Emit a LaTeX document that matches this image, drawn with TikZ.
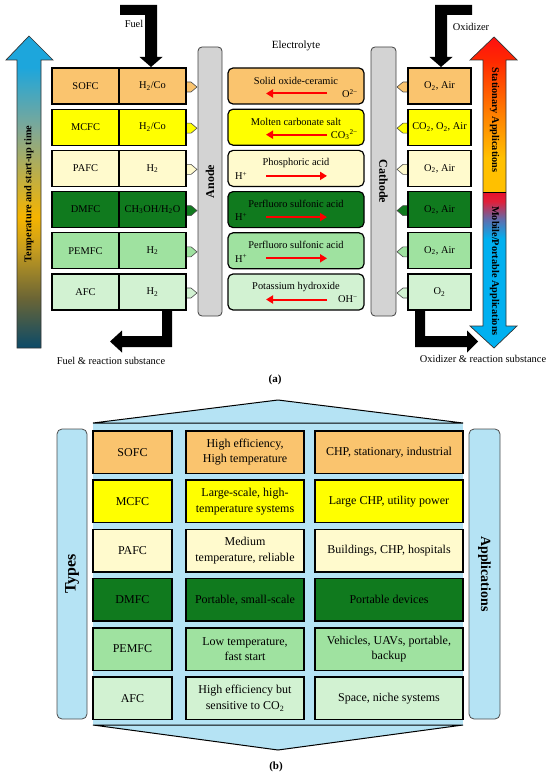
\documentclass[tikz,border=0pt]{standalone}
\usepackage{fontspec}
\setmainfont{Liberation Serif}
\usetikzlibrary{arrows.meta}
\definecolor{cSOFC}{HTML}{FAC46E}
\definecolor{cMCFC}{HTML}{FFFF00}
\definecolor{cPAFC}{HTML}{FFFACD}
\definecolor{cDMFC}{HTML}{107A1E}
\definecolor{cPEMFC}{HTML}{9FE2A0}
\definecolor{cAFC}{HTML}{D2F2D2}
\definecolor{lblue}{HTML}{B5E3F4}
\definecolor{barGray}{HTML}{D3D3D3}
\definecolor{tA1}{HTML}{0B4A68}
\definecolor{tA2}{HTML}{6B6535}
\definecolor{tA3}{HTML}{C89E1E}
\definecolor{tA4}{HTML}{F5B400}
\definecolor{tA5}{HTML}{80A895}
\definecolor{tA6}{HTML}{1DA6DC}
\definecolor{sA1}{HTML}{FFC000}
\definecolor{sA2}{HTML}{FF8000}
\definecolor{sA3}{HTML}{FF2A00}
\definecolor{sA4}{HTML}{FF1010}
\definecolor{mA1}{HTML}{00B0F0}
\definecolor{mA2}{HTML}{5B6FB0}
\definecolor{mA3}{HTML}{E0203A}
\definecolor{mA4}{HTML}{E8102A}
\pgfdeclareverticalshading{tempshade}{100bp}{color(0bp)=(tA1); color(25bp)=(tA1); color(33bp)=(tA2); color(41bp)=(tA3); color(46bp)=(tA4); color(60bp)=(tA5); color(70bp)=(tA6); color(75bp)=(tA6); color(100bp)=(tA6)}
\pgfdeclareverticalshading{statshade}{100bp}{color(0bp)=(sA1); color(25bp)=(sA1); color(36bp)=(sA1); color(50bp)=(sA2); color(67bp)=(sA3); color(75bp)=(sA4); color(100bp)=(sA4)}
\pgfdeclareverticalshading{mobshade}{100bp}{color(0bp)=(mA1); color(25bp)=(mA1); color(60bp)=(mA1); color(66bp)=(mA2); color(72bp)=(mA3); color(75bp)=(mA4); color(100bp)=(mA4)}
\tikzset{
  txtA/.style={inner sep=0pt, font=\fontsize{10.4}{12}\selectfont},
  cellA/.style={draw=black, line width=1.2pt, minimum height=36pt, inner sep=1pt, font=\fontsize{10.4}{12}\selectfont},
  elbox/.style={draw=black, line width=1.2pt, rounded corners=5pt, minimum width=136pt, minimum height=36pt, inner sep=0pt},
  redarr/.style={draw=red, line width=2pt, -{Triangle[length=7pt,width=8pt]}},
  tabshape/.style={draw=black!70, line width=0.6pt},
  gbar/.style={draw=black!75, line width=0.8pt, fill=barGray, rounded corners=4pt, inner sep=0pt, font=\fontsize{12}{14}\selectfont\bfseries},
  blockarrow/.style={fill=black, draw=none},
  gradtxt/.style={inner sep=0pt, font=\fontsize{10.3}{12}\selectfont\bfseries},
  cellB/.style={draw=black, line width=1.5pt, minimum height=42.5pt, align=center, inner sep=1pt, font=\fontsize{12}{15.5}\selectfont},
  sidebar/.style={draw=black!70, line width=0.8pt, fill=lblue, rounded corners=5pt, inner sep=0pt, minimum width=290pt},
  caption/.style={inner sep=0pt, font=\fontsize{11}{13}\selectfont\bfseries}
}
\begin{document}
\begin{tikzpicture}[x=1pt, y=-1pt]
\useasboundingbox (0,0) rectangle (550,778);
% ================= (a) =================
% left gradient arrow
\path[shading=tempshade] (17,348) -- (17,60) -- (6,60) -- (29,36) -- (53,60) -- (41,60) -- (41,348) -- cycle;
\draw[black!80, line width=0.7pt] (17,348) -- (17,60) -- (6,60) -- (29,36) -- (53,60) -- (41,60) -- (41,348) -- cycle;
\node[gradtxt, rotate=90] (temp) at (29,194) {Temperature and start-up time};
% right gradient arrow
\path[shading=statshade] (483,192) -- (483,60) -- (470,60) -- (494,37) -- (517,60) -- (506,60) -- (506,192) -- cycle;
\path[shading=mobshade] (483,192) -- (483,326) -- (470,326) -- (494,348) -- (517,326) -- (506,326) -- (506,192) -- cycle;
\draw[black!80, line width=0.7pt] (494,37) -- (517,60) -- (506,60) -- (506,326) -- (517,326) -- (494,348) -- (470,326) -- (483,326) -- (483,60) -- (470,60) -- cycle;
\draw[black, line width=0.8pt] (483,192) -- (506,192);
\node[gradtxt, rotate=-90] (stat) at (494.5,120) {Stationary Applications};
\node[gradtxt, rotate=-90] (mob) at (494.5,271) {Mobile/Portable Applications};
% block arrows
\fill[blockarrow] (120,5) -- (157,5) -- (157,57) -- (162.5,57) -- (151,67) -- (139.5,57) -- (145,57) -- (145,15) -- (120,15) -- cycle;
\fill[blockarrow] (472,5) -- (435,5) -- (435,57) -- (429.5,57) -- (441,67) -- (452.5,57) -- (447,57) -- (447,15) -- (472,15) -- cycle;
\fill[blockarrow] (172,310) -- (172,347) -- (122,347) -- (122,352.5) -- (110,341.5) -- (122,330.5) -- (122,336) -- (162,336) -- (162,310) -- cycle;
\fill[blockarrow] (415,310) -- (415,347) -- (467,347) -- (467,352.5) -- (478,341.5) -- (467,330.5) -- (467,336) -- (425,336) -- (425,310) -- cycle;
\node[txtA] (fuel) at (134,24) {Fuel};
\node[txtA] (oxid) at (471,27) {Oxidizer};
\node[txtA, font=\fontsize{11}{13}\selectfont] (elyte) at (296,46) {Electrolyte};
\node[txtA] (fuelout) at (111,361) {Fuel \& reaction substance};
\node[txtA] (oxout) at (483,359) {Oxidizer \& reaction substance};
% anode / cathode
\node[gbar, rotate=90, minimum width=269pt, minimum height=24pt] (anode) at (210,181.5) {Anode};
\node[gbar, rotate=-90, minimum width=269pt, minimum height=25pt] (cathode) at (383.5,181.5) {Cathode};
% tabs (left side, pointing right to anode)
\draw[tabshape, fill=cSOFC]  (186,82) -- (191,82) -- (197,87) -- (191,92) -- (186,92);
\draw[tabshape, fill=cMCFC]  (186,123.2) -- (191,123.2) -- (197,128.2) -- (191,133.2) -- (186,133.2);
\draw[tabshape, fill=cPAFC]  (186,164.4) -- (191,164.4) -- (197,169.4) -- (191,174.4) -- (186,174.4);
\draw[tabshape, fill=cDMFC]  (186,205.6) -- (191,205.6) -- (197,210.6) -- (191,215.6) -- (186,215.6);
\draw[tabshape, fill=cPEMFC] (186,246.8) -- (191,246.8) -- (197,251.8) -- (191,256.8) -- (186,256.8);
\draw[tabshape, fill=cAFC]   (186,288) -- (191,288) -- (197,293) -- (191,298) -- (186,298);
% tabs (right side, pointing left to cathode)
\draw[tabshape, fill=cSOFC]  (408,82) -- (403,82) -- (397,87) -- (403,92) -- (408,92);
\draw[tabshape, fill=cMCFC]  (408,123.2) -- (403,123.2) -- (397,128.2) -- (403,133.2) -- (408,133.2);
\draw[tabshape, fill=cPAFC]  (408,164.4) -- (403,164.4) -- (397,169.4) -- (403,174.4) -- (408,174.4);
\draw[tabshape, fill=cDMFC]  (408,205.6) -- (403,205.6) -- (397,210.6) -- (403,215.6) -- (408,215.6);
\draw[tabshape, fill=cPEMFC] (408,246.8) -- (403,246.8) -- (397,251.8) -- (403,256.8) -- (408,256.8);
\draw[tabshape, fill=cAFC]   (408,288) -- (403,288) -- (397,293) -- (403,298) -- (408,298);
% row 1 SOFC
\node[cellA, fill=cSOFC, minimum width=67pt] (n1) at (85.5,86) {SOFC};
\node[cellA, fill=cSOFC, minimum width=67pt] (f1) at (152.5,86) {H\textsubscript{2}/Co};
\node[elbox, fill=cSOFC] (e1) at (296,86) {};
\node[txtA] (et1) at (296,80.5) {Solid oxide-ceramic};
\coordinate (ea1) at (327,93.5); \coordinate (eb1) at (266,93.5);
\draw[redarr] (ea1) -- (eb1);
\node[txtA, anchor=east] (i1) at (358,93.5) {O\textsuperscript{2−}};
\node[cellA, fill=cSOFC, minimum width=63pt] (o1) at (439.5,86) {O\textsubscript{2}, Air};
% row 2 MCFC
\node[cellA, fill=cMCFC, minimum width=67pt] (n2) at (85.5,127.2) {MCFC};
\node[cellA, fill=cMCFC, minimum width=67pt] (f2) at (152.5,127.2) {H\textsubscript{2}/Co};
\node[elbox, fill=cMCFC] (e2) at (296,127.2) {};
\node[txtA] (et2) at (296,121.7) {Molten carbonate salt};
\coordinate (ea2) at (327,134.7); \coordinate (eb2) at (266,134.7);
\draw[redarr] (ea2) -- (eb2);
\node[txtA, anchor=east] (i2) at (358,134.7) {CO\textsubscript{3}\textsuperscript{2−}};
\node[cellA, fill=cMCFC, minimum width=63pt] (o2) at (439.5,127.2) {CO\textsubscript{2}, O\textsubscript{2}, Air};
% row 3 PAFC
\node[cellA, fill=cPAFC, minimum width=67pt] (n3) at (85.5,168.4) {PAFC};
\node[cellA, fill=cPAFC, minimum width=67pt] (f3) at (152.5,168.4) {H\textsubscript{2}};
\node[elbox, fill=cPAFC] (e3) at (296,168.4) {};
\node[txtA] (et3) at (296,162.9) {Phosphoric acid};
\coordinate (ea3) at (266,175.9); \coordinate (eb3) at (327,175.9);
\draw[redarr] (ea3) -- (eb3);
\node[txtA, anchor=west] (i3) at (235,175.9) {H\textsuperscript{+}};
\node[cellA, fill=cPAFC, minimum width=63pt] (o3) at (439.5,168.4) {O\textsubscript{2}, Air};
% row 4 DMFC
\node[cellA, fill=cDMFC, minimum width=67pt] (n4) at (85.5,209.6) {DMFC};
\node[cellA, fill=cDMFC, minimum width=67pt] (f4) at (152.5,209.6) {CH\textsubscript{3}OH/H\textsubscript{2}O};
\node[elbox, fill=cDMFC] (e4) at (296,209.6) {};
\node[txtA] (et4) at (296,204.1) {Perfluoro sulfonic acid};
\coordinate (ea4) at (266,217.1); \coordinate (eb4) at (327,217.1);
\draw[redarr] (ea4) -- (eb4);
\node[txtA, anchor=west] (i4) at (235,217.1) {H\textsuperscript{+}};
\node[cellA, fill=cDMFC, minimum width=63pt] (o4) at (439.5,209.6) {O\textsubscript{2}, Air};
% row 5 PEMFC
\node[cellA, fill=cPEMFC, minimum width=67pt] (n5) at (85.5,250.8) {PEMFC};
\node[cellA, fill=cPEMFC, minimum width=67pt] (f5) at (152.5,250.8) {H\textsubscript{2}};
\node[elbox, fill=cPEMFC] (e5) at (296,250.8) {};
\node[txtA] (et5) at (296,245.3) {Perfluoro sulfonic acid};
\coordinate (ea5) at (266,258.3); \coordinate (eb5) at (327,258.3);
\draw[redarr] (ea5) -- (eb5);
\node[txtA, anchor=west] (i5) at (235,258.3) {H\textsuperscript{+}};
\node[cellA, fill=cPEMFC, minimum width=63pt] (o5) at (439.5,250.8) {O\textsubscript{2}, Air};
% row 6 AFC
\node[cellA, fill=cAFC, minimum width=67pt] (n6) at (85.5,292) {AFC};
\node[cellA, fill=cAFC, minimum width=67pt] (f6) at (152.5,292) {H\textsubscript{2}};
\node[elbox, fill=cAFC] (e6) at (296,292) {};
\node[txtA] (et6) at (296,287) {Potassium hydroxide};
\coordinate (ea6) at (327,299.5); \coordinate (eb6) at (266,299.5);
\draw[redarr] (ea6) -- (eb6);
\node[txtA, anchor=east] (i6) at (358,299.5) {OH\textsuperscript{−}};
\node[cellA, fill=cAFC, minimum width=63pt] (o6) at (439.5,292) {O\textsubscript{2}};
\node[caption] (capa) at (275,380) {(a)};
% ================= (b) =================
\fill[lblue] (93,423) rectangle (463,725);
\draw[black, line width=1pt, fill=lblue] (93,423) -- (278,400) -- (463,423) -- cycle;
\draw[black, line width=1pt, fill=lblue] (93,725) -- (278,750) -- (463,725) -- cycle;
\node[sidebar, rotate=90, minimum height=30pt, font=\fontsize{16}{18}\selectfont\bfseries] (types) at (72,574) {Types};
\node[sidebar, rotate=-90, minimum height=31pt, font=\fontsize{14}{16}\selectfont\bfseries] (apps) at (484.5,574) {Applications};
% rows
\node[cellB, fill=cSOFC, minimum width=79pt] (b1) at (132.5,452.25) {SOFC};
\node[cellB, fill=cSOFC, minimum width=118pt] (c1) at (245,452.25) {High efficiency,\\High temperature};
\node[cellB, fill=cSOFC, minimum width=148pt] (d1) at (389,452.25) {CHP, stationary, industrial};
\node[cellB, fill=cMCFC, minimum width=79pt] (b2) at (132.5,501.45) {MCFC};
\node[cellB, fill=cMCFC, minimum width=118pt] (c2) at (245,501.45) {Large-scale, high-\\temperature systems};
\node[cellB, fill=cMCFC, minimum width=148pt] (d2) at (389,501.45) {Large CHP, utility power};
\node[cellB, fill=cPAFC, minimum width=79pt] (b3) at (132.5,550.65) {PAFC};
\node[cellB, fill=cPAFC, minimum width=118pt] (c3) at (245,550.65) {Medium\\temperature, reliable};
\node[cellB, fill=cPAFC, minimum width=148pt] (d3) at (389,550.65) {Buildings, CHP, hospitals};
\node[cellB, fill=cDMFC, minimum width=79pt] (b4) at (132.5,599.85) {DMFC};
\node[cellB, fill=cDMFC, minimum width=118pt] (c4) at (245,599.85) {Portable, small-scale};
\node[cellB, fill=cDMFC, minimum width=148pt] (d4) at (389,599.85) {Portable devices};
\node[cellB, fill=cPEMFC, minimum width=79pt] (b5) at (132.5,649.05) {PEMFC};
\node[cellB, fill=cPEMFC, minimum width=118pt] (c5) at (245,649.05) {Low temperature,\\fast start};
\node[cellB, fill=cPEMFC, minimum width=148pt] (d5) at (389,649.05) {Vehicles, UAVs, portable,\\backup};
\node[cellB, fill=cAFC, minimum width=79pt] (b6) at (132.5,698.25) {AFC};
\node[cellB, fill=cAFC, minimum width=118pt] (c6) at (245,698.25) {High efficiency but\\sensitive to CO\textsubscript{2}};
\node[cellB, fill=cAFC, minimum width=148pt] (d6) at (389,698.25) {Space, niche systems};
\node[caption] (capb) at (276,767) {(b)};
\end{tikzpicture}
\end{document}
